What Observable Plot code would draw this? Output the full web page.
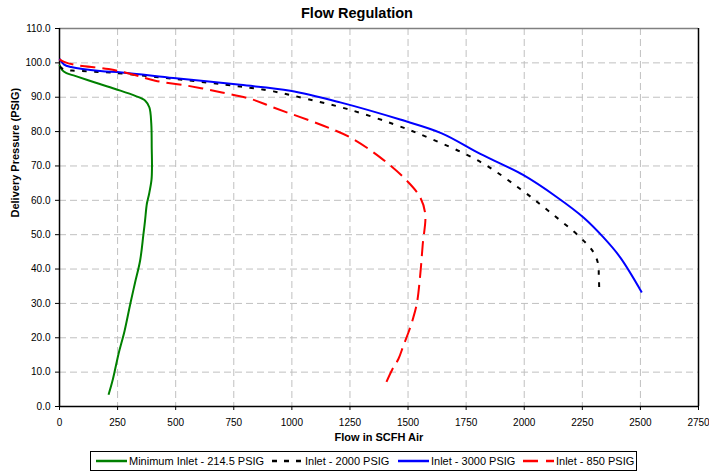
<!DOCTYPE html>
<html>
<head>
<meta charset="utf-8">
<script src="https://cdn.jsdelivr.net/npm/d3@7"></script>
<script src="https://cdn.jsdelivr.net/npm/@observablehq/plot@0.6"></script>
<style>
  html, body { margin: 0; padding: 0; background: #fff; }
  #wrap { position: relative; width: 709px; height: 471px; font-family: "Liberation Sans", Arial, sans-serif; }
  #title { position: absolute; left: 0; top: 5px; width: 714px; text-align: center; font-weight: bold; font-size: 14.5px; line-height: 16px; color: #000; }
  #legend { position: absolute; left: 90px; top: 451px; width: 545px; height: 18px; border: 1px solid #000; box-sizing: content-box; }
  .item { position: absolute; top: 0; height: 18px; display: flex; align-items: center; font-size: 11px; color: #000; white-space: nowrap; }
  .item svg { margin-right: 2px; }
</style>
</head>
<body>
<div id="wrap">
  <div id="chart"></div>
  <div id="title">Flow Regulation</div>
  <div id="legend"></div>
</div>
<script>
// ---- data ----
const seriesNames = ["Minimum Inlet - 214.5 PSIG", "Inlet - 2000 PSIG", "Inlet - 3000 PSIG", "Inlet - 850 PSIG"];
const seriesColors = ["#008000", "#000000", "#0000ff", "#ff0000"];

const minInletFlow     = [0, 10, 30, 67, 153, 240, 326, 369, 387, 395, 397, 398, 396, 386, 376, 368, 361, 347, 325, 305, 280, 254, 230, 211];
const minInletPressure = [99.4, 98, 97, 96.2, 94.3, 92.4, 90.4, 89, 87, 82.3, 75, 70, 66, 62, 59, 54, 50, 42.5, 36, 30, 22, 15.3, 8, 3.4];

const inlet2000Flow     = [0, 20, 75, 232, 500, 778, 921, 1065, 1237, 1437, 1595, 1811, 1983, 2112, 2241, 2298, 2318, 2321, 2323];
const inlet2000Pressure = [99, 98, 97.7, 97.1, 95.3, 93.1, 91.7, 89.5, 86.6, 82.2, 78, 71.2, 63.3, 56.5, 49.2, 44.9, 41.5, 38, 33.7];

const inlet3000Flow     = [0, 20, 50, 175, 268, 490, 778, 993, 1208, 1466, 1645, 1811, 1997, 2141, 2255, 2341, 2413, 2506];
const inlet3000Pressure = [101.2, 99.5, 98.8, 97.6, 97.2, 95.6, 93.6, 91.9, 88.5, 83.5, 79.5, 73.5, 67.3, 60.9, 55, 49.2, 43.4, 33.2];

const inlet850Flow     = [0, 20, 67, 211, 311, 412, 555, 699, 828, 921, 1136, 1251, 1380, 1495, 1552, 1574, 1563, 1552, 1538, 1521, 1502, 1480, 1459, 1430, 1397];
const inlet850Pressure = [101, 100.3, 99.4, 98.2, 96.7, 94.8, 93.3, 91.4, 89.4, 87, 81.7, 78.3, 72.5, 65.7, 60.9, 56, 47, 38, 30, 25.5, 21.6, 17.7, 13.9, 10.5, 5.6];

const xTicks = [0, 250, 500, 750, 1000, 1250, 1500, 1750, 2000, 2250, 2500, 2750];
const yTicks = [0, 10, 20, 30, 40, 50, 60, 70, 80, 90, 100, 110];

// ---- styles ----
const dashes = [null, "4.5,7.5", null, "15,7"];

const flows = [minInletFlow, inlet2000Flow, inlet3000Flow, inlet850Flow];
const pressures = [minInletPressure, inlet2000Pressure, inlet3000Pressure, inlet850Pressure];
const tables = flows.map((f, i) => f.map((x, j) => ({x, y: pressures[i][j], s: seriesNames[i]})));

const lineMarks = tables.map((t, i) => Plot.line(t, {
  x: "x", y: "y", stroke: seriesColors[i], strokeWidth: 2,
  strokeDasharray: dashes[i] || undefined, curve: "catmull-rom",
  strokeLinecap: "butt", strokeLinejoin: "round"
}));

const chart = Plot.plot({
  width: 709,
  height: 449,
  marginLeft: 59,
  marginRight: 11,
  marginTop: 28,
  marginBottom: 43,
  style: { fontFamily: "Liberation Sans, Arial, sans-serif", fontSize: "10px", color: "#000", background: "#fff", overflow: "visible" },
  x: { domain: [0, 2750], ticks: xTicks, tickFormat: d3.format("d") },
  y: { domain: [0, 110], ticks: yTicks, tickFormat: d3.format(".1f") },
  marks: [
    Plot.gridX(xTicks.filter(d => d > 0 && d < 2750), { stroke: "#c0c0c0", strokeOpacity: 1, strokeDasharray: "7,4" }),
    Plot.gridY(yTicks.filter(d => d > 0 && d < 110), { stroke: "#c0c0c0", strokeOpacity: 1, strokeDasharray: "7,4" }),
    Plot.ruleY([110], { stroke: "#808080", strokeWidth: 1.5 }),
    Plot.ruleX([2750], { stroke: "#000", strokeWidth: 1.5 }),
    Plot.axisX({ ticks: xTicks, tickSize: 4, tickPadding: 8, label: null, tickFormat: d3.format("d"), fontSize: 10 }),
    Plot.axisY({ ticks: yTicks, tickSize: 4, tickPadding: 5, label: null, tickFormat: d3.format(".1f"), fontSize: 10 }),
    Plot.ruleX([0], { stroke: "#000", strokeWidth: 1.5 }),
    Plot.ruleY([0], { stroke: "#000", strokeWidth: 1.5 }),
    ...lineMarks,
    Plot.text(["Delivery Pressure (PSIG)"], { frameAnchor: "left", dx: -44.5, rotate: -90, fontWeight: "bold", fontSize: 11, fill: "#000" }),
    Plot.text(["Flow in SCFH Air"], { frameAnchor: "bottom", dy: 34, fontWeight: "bold", fontSize: 11, fill: "#000" })
  ]
});
document.getElementById("chart").appendChild(chart);

// ---- legend ----
const legendLeft = [5, 181, 307, 432];
const legend = document.getElementById("legend");
seriesNames.forEach((name, i) => {
  const div = document.createElement("div");
  div.className = "item";
  div.style.left = legendLeft[i] + "px";
  const dash = dashes[i] ? (i === 1 ? "5,7" : "15,8") : "";
  div.innerHTML = `<svg width="31" height="6"><line x1="0" y1="3" x2="31" y2="3" stroke="${seriesColors[i]}" stroke-width="2.5" ${dash ? `stroke-dasharray="${dash}"` : ""}/></svg><span>${name}</span>`;
  legend.appendChild(div);
});
</script>
</body>
</html>
